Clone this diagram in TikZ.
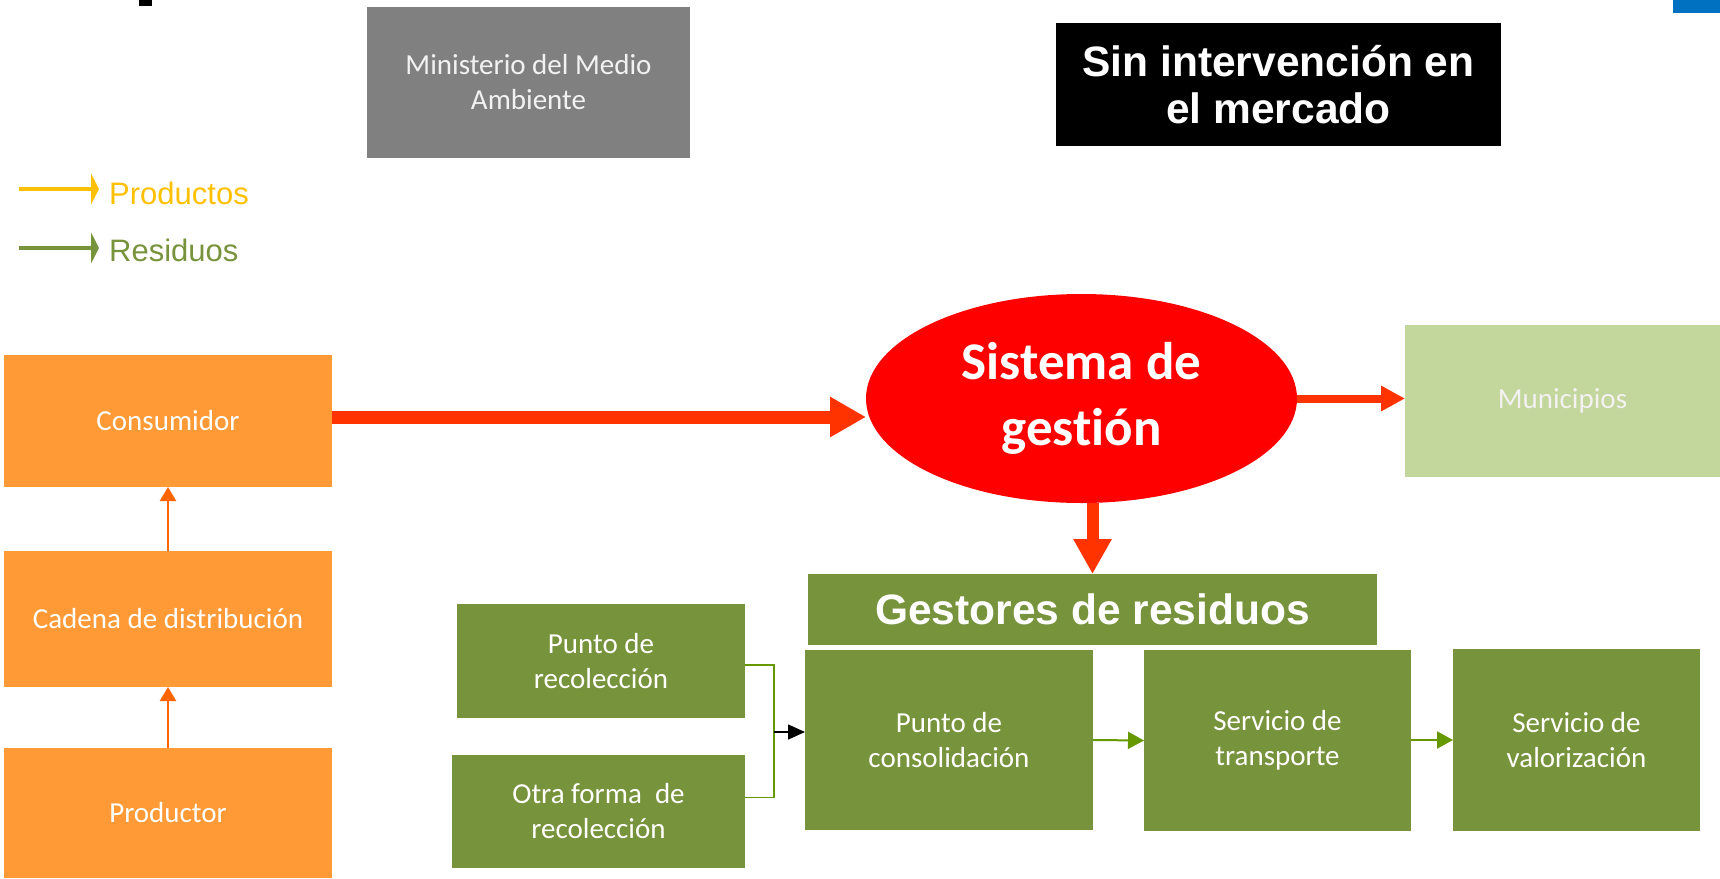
\documentclass[tikz,border=0pt]{standalone}
\usepackage{fontspec}
\setmainfont{Carlito}[Ligatures=NoCommon]
\newfontfamily\arialfont{Liberation Sans}
\usetikzlibrary{arrows.meta,shapes.geometric}
\definecolor{orbox}{HTML}{FF9A36}
\definecolor{orarrow}{HTML}{FF6600}
\definecolor{redarrow}{HTML}{FF3300}
\definecolor{redell}{HTML}{FF0000}
\definecolor{grbox}{HTML}{77933C}
\definecolor{grline}{HTML}{669900}
\definecolor{lgbox}{HTML}{C3D69B}
\definecolor{graybox}{HTML}{808080}
\definecolor{bluetab}{HTML}{0070C0}
\definecolor{prodcol}{HTML}{FFC000}
\definecolor{lighttext}{HTML}{F2F2F2}
\tikzset{
  box/.style={rectangle, inner sep=0pt, outer sep=0pt, align=center, text=white,
    font=\fontsize{29}{35}\selectfont},
  orangebox/.style={box, fill=orbox},
  greenbox/.style={box, fill=grbox},
  bigred/.style={draw=redarrow, line width=13pt, -{Triangle[length=36pt,width=38pt]}},
  midred/.style={draw=redarrow, line width=8pt, -{Triangle[length=24pt,width=24pt]}},
  downred/.style={draw=redarrow, line width=12pt, -{Triangle[length=35pt,width=36pt]}},
  orangearrow/.style={draw=orarrow, line width=2.5pt, -{Triangle[length=14pt,width=16pt]}},
  greenline/.style={draw=grline, line width=1.5pt},
  greenarrow/.style={draw=grline, line width=2pt, -{Triangle[length=16pt,width=17pt]}},
  blackarrow/.style={draw=black, line width=1.5pt, -{Triangle[length=17pt,width=15pt]}},
  legendarrow/.style={line width=4pt, -{Triangle[length=8pt,width=31pt]}},
  legendtext/.style={anchor=base west, inner sep=0pt, font=\arialfont\fontsize{31}{37}\selectfont}
}
\begin{document}
\begin{tikzpicture}[x=1pt,y=-1pt]
\useasboundingbox (0,0) rectangle (1720,878);
% decorations at the edges
\fill[black] (139,0) rectangle (152,6);
\fill[bluetab] (1673,0) rectangle (1720,13);

% top boxes
\node[box, fill=graybox, text=lighttext, minimum width=323pt, minimum height=151pt] (min) at (528.5,82.5)
  {Ministerio del Medio\\Ambiente};
\node[box, fill=black, minimum width=445pt, minimum height=123pt,
  font=\arialfont\bfseries\fontsize{42.5}{47}\selectfont] (sin) at (1278.5,84.5)
  {Sin intervención en\\el mercado};

% legend
\coordinate (lp1) at (19,189);
\coordinate (lp2) at (99,189);
\coordinate (lr1) at (19,248);
\coordinate (lr2) at (99,248);
\draw[legendarrow, draw=prodcol, fill=prodcol] (lp1) -- (lp2);
\draw[legendarrow, draw=grbox, fill=grbox] (lr1) -- (lr2);
\node[legendtext, text=prodcol] (lprod) at (109,204) {Productos};
\node[legendtext, text=grbox] (lres) at (109,261) {Residuos};

% orange column
\node[orangebox, minimum width=328pt, minimum height=132pt] (cons) at (168,421) {Consumidor};
\node[orangebox, minimum width=328pt, minimum height=136pt] (cad) at (168,619) {Cadena de distribución};
\node[orangebox, minimum width=328pt, minimum height=130pt] (prod) at (168,813) {Productor};

% management system
\node[ellipse, fill=redell, inner sep=0pt, outer sep=0pt, minimum width=431pt, minimum height=209pt,
  align=center, text=white, font=\bfseries\fontsize{53}{66}\selectfont] (sg) at (1081.5,398.5)
  {Sistema de\\gestión};
\node[box, fill=lgbox, text=lighttext, minimum width=315pt, minimum height=152pt] (mun) at (1562.5,401) {Municipios};

% waste managers
\node[greenbox, minimum width=569pt, minimum height=71pt,
  font=\arialfont\bfseries\fontsize{42.5}{47}\selectfont] (gest) at (1092.5,609.5) {Gestores de residuos};
\node[greenbox, minimum width=288pt, minimum height=114pt] (rec) at (601,661) {Punto de\\recolección};
\node[greenbox, minimum width=293pt, minimum height=113pt] (otra) at (598.5,811.5) {Otra forma~ de\\recolección};
\node[greenbox, minimum width=288pt, minimum height=180pt] (consol) at (949,740) {Punto de\\consolidación};
\node[greenbox, minimum width=267pt, minimum height=181pt] (trans) at (1277.5,740.5) {Servicio de\\transporte};
\node[greenbox, minimum width=247pt, minimum height=182pt] (val) at (1576.5,740) {Servicio de\\valorización};

% connectors
\draw[orangearrow] (cad.north) -- (cons.south);
\draw[orangearrow] (prod.north) -- (cad.south);
\draw[bigred] ([yshift=4pt]cons.east) -- ([yshift=4pt]cons.east -| sg.west);
\draw[midred] (sg.east) -- (sg.east -| mun.west);
\draw[downred] (gest.north |- sg.south) -- (gest.north);

\coordinate (j) at (774,732);
\draw[greenline] ([yshift=-4pt]rec.east) -| (j);
\draw[greenline] ([yshift=14pt]otra.east) -| (j);
\draw[blackarrow] (j) -- (j -| consol.west);
\draw[greenarrow] (consol.east) -- (trans.west);
\draw[greenarrow] (trans.east |- val.west) -- (val.west);
\end{tikzpicture}
\end{document}
